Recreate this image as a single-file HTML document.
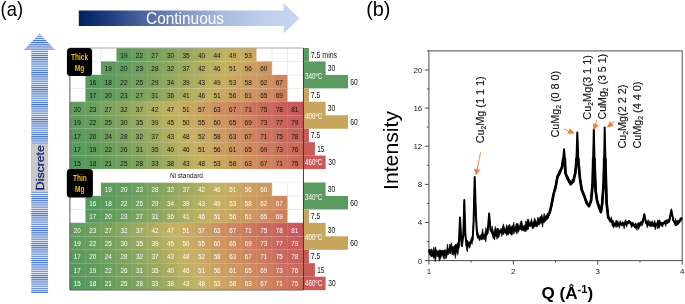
<!DOCTYPE html>
<html><head><meta charset="utf-8"><title>figure</title>
<style>html,body{margin:0;padding:0;background:#fff;}body{width:685px;height:304px;overflow:hidden;position:relative;font-family:"Liberation Sans",sans-serif;}</style></head>
<body>
<svg width="685" height="304" viewBox="0 0 685 304" style="position:absolute;left:0;top:0;will-change:transform;font-family:'Liberation Sans',sans-serif">
<defs>
<linearGradient id="gc" gradientUnits="userSpaceOnUse" x1="78.8" x2="299.5" y1="0" y2="0"><stop offset="0" stop-color="#002060"/><stop offset="0.15" stop-color="#23407f"/><stop offset="0.345" stop-color="#5a72a8"/><stop offset="0.5" stop-color="#889bc8"/><stop offset="0.66" stop-color="#abbbdd"/><stop offset="0.85" stop-color="#bfcfec"/><stop offset="1" stop-color="#c8d6f1"/></linearGradient>
<pattern id="st" x="0" y="1.61" width="10" height="2.136" patternUnits="userSpaceOnUse"><rect x="0" y="0" width="10" height="2.136" fill="#e3eaf7"/><rect x="0" y="0" width="10" height="1.0" fill="#4472c4"/></pattern>
<linearGradient id="r0" gradientUnits="userSpaceOnUse" x1="116.52" x2="256.38" y1="0" y2="0"><stop offset="0.0556" stop-color="rgb(95,155,93)"/><stop offset="0.1667" stop-color="rgb(106,158,93)"/><stop offset="0.2778" stop-color="rgb(124,162,94)"/><stop offset="0.3889" stop-color="rgb(134,164,94)"/><stop offset="0.5000" stop-color="rgb(152,168,95)"/><stop offset="0.6111" stop-color="rgb(170,172,96)"/><stop offset="0.7222" stop-color="rgb(184,176,96)"/><stop offset="0.8333" stop-color="rgb(199,177,97)"/><stop offset="0.9444" stop-color="rgb(201,168,96)"/></linearGradient>
<linearGradient id="r1" gradientUnits="userSpaceOnUse" x1="100.98" x2="271.92" y1="0" y2="0"><stop offset="0.0455" stop-color="rgb(95,155,93)"/><stop offset="0.1364" stop-color="rgb(99,156,93)"/><stop offset="0.2273" stop-color="rgb(109,159,93)"/><stop offset="0.3182" stop-color="rgb(127,163,94)"/><stop offset="0.4091" stop-color="rgb(141,166,95)"/><stop offset="0.5000" stop-color="rgb(159,170,95)"/><stop offset="0.5909" stop-color="rgb(177,174,96)"/><stop offset="0.6818" stop-color="rgb(191,177,97)"/><stop offset="0.7727" stop-color="rgb(200,172,97)"/><stop offset="0.8636" stop-color="rgb(202,161,96)"/><stop offset="0.9545" stop-color="rgb(204,152,96)"/></linearGradient>
<linearGradient id="r2" gradientUnits="userSpaceOnUse" x1="85.44" x2="287.46" y1="0" y2="0"><stop offset="0.0385" stop-color="rgb(85,153,92)"/><stop offset="0.1154" stop-color="rgb(92,154,92)"/><stop offset="0.1923" stop-color="rgb(106,158,93)"/><stop offset="0.2692" stop-color="rgb(116,160,94)"/><stop offset="0.3462" stop-color="rgb(131,163,94)"/><stop offset="0.4231" stop-color="rgb(148,168,95)"/><stop offset="0.5000" stop-color="rgb(166,172,96)"/><stop offset="0.5769" stop-color="rgb(180,175,96)"/><stop offset="0.6538" stop-color="rgb(199,177,97)"/><stop offset="0.7308" stop-color="rgb(201,168,96)"/><stop offset="0.8077" stop-color="rgb(203,157,96)"/><stop offset="0.8846" stop-color="rgb(205,148,95)"/><stop offset="0.9615" stop-color="rgb(206,134,94)"/></linearGradient>
<linearGradient id="r3" gradientUnits="userSpaceOnUse" x1="85.44" x2="287.46" y1="0" y2="0"><stop offset="0.0385" stop-color="rgb(88,154,92)"/><stop offset="0.1154" stop-color="rgb(99,156,93)"/><stop offset="0.1923" stop-color="rgb(109,159,93)"/><stop offset="0.2692" stop-color="rgb(124,162,94)"/><stop offset="0.3462" stop-color="rgb(138,165,94)"/><stop offset="0.4231" stop-color="rgb(155,169,95)"/><stop offset="0.5000" stop-color="rgb(173,173,96)"/><stop offset="0.5769" stop-color="rgb(191,177,97)"/><stop offset="0.6538" stop-color="rgb(200,172,97)"/><stop offset="0.7308" stop-color="rgb(202,161,96)"/><stop offset="0.8077" stop-color="rgb(205,150,95)"/><stop offset="0.8846" stop-color="rgb(207,141,95)"/><stop offset="0.9615" stop-color="rgb(205,128,94)"/></linearGradient>
<linearGradient id="r4" gradientUnits="userSpaceOnUse" x1="69.90" x2="303.00" y1="0" y2="0"><stop offset="0.0333" stop-color="rgb(99,156,93)"/><stop offset="0.1000" stop-color="rgb(109,159,93)"/><stop offset="0.1667" stop-color="rgb(124,162,94)"/><stop offset="0.2333" stop-color="rgb(141,166,95)"/><stop offset="0.3000" stop-color="rgb(159,170,95)"/><stop offset="0.3667" stop-color="rgb(177,174,96)"/><stop offset="0.4333" stop-color="rgb(194,178,97)"/><stop offset="0.5000" stop-color="rgb(200,172,97)"/><stop offset="0.5667" stop-color="rgb(203,159,96)"/><stop offset="0.6333" stop-color="rgb(206,145,95)"/><stop offset="0.7000" stop-color="rgb(206,134,94)"/><stop offset="0.7667" stop-color="rgb(204,121,93)"/><stop offset="0.8333" stop-color="rgb(202,108,92)"/><stop offset="0.9000" stop-color="rgb(200,98,91)"/><stop offset="0.9667" stop-color="rgb(199,88,90)"/></linearGradient>
<linearGradient id="r5" gradientUnits="userSpaceOnUse" x1="69.90" x2="303.00" y1="0" y2="0"><stop offset="0.0333" stop-color="rgb(95,155,93)"/><stop offset="0.1000" stop-color="rgb(106,158,93)"/><stop offset="0.1667" stop-color="rgb(116,160,94)"/><stop offset="0.2333" stop-color="rgb(134,164,94)"/><stop offset="0.3000" stop-color="rgb(152,168,95)"/><stop offset="0.3667" stop-color="rgb(166,172,96)"/><stop offset="0.4333" stop-color="rgb(187,177,97)"/><stop offset="0.5000" stop-color="rgb(199,175,97)"/><stop offset="0.5667" stop-color="rgb(202,163,96)"/><stop offset="0.6333" stop-color="rgb(204,152,96)"/><stop offset="0.7000" stop-color="rgb(207,141,95)"/><stop offset="0.7667" stop-color="rgb(205,128,94)"/><stop offset="0.8333" stop-color="rgb(203,114,92)"/><stop offset="0.9000" stop-color="rgb(201,101,91)"/><stop offset="0.9667" stop-color="rgb(200,95,91)"/></linearGradient>
<linearGradient id="r6" gradientUnits="userSpaceOnUse" x1="69.90" x2="303.00" y1="0" y2="0"><stop offset="0.0333" stop-color="rgb(88,154,92)"/><stop offset="0.1000" stop-color="rgb(99,156,93)"/><stop offset="0.1667" stop-color="rgb(113,159,93)"/><stop offset="0.2333" stop-color="rgb(127,163,94)"/><stop offset="0.3000" stop-color="rgb(141,166,95)"/><stop offset="0.3667" stop-color="rgb(159,170,95)"/><stop offset="0.4333" stop-color="rgb(180,175,96)"/><stop offset="0.5000" stop-color="rgb(198,179,97)"/><stop offset="0.5667" stop-color="rgb(200,170,97)"/><stop offset="0.6333" stop-color="rgb(203,157,96)"/><stop offset="0.7000" stop-color="rgb(206,145,95)"/><stop offset="0.7667" stop-color="rgb(206,134,94)"/><stop offset="0.8333" stop-color="rgb(204,121,93)"/><stop offset="0.9000" stop-color="rgb(202,108,92)"/><stop offset="0.9667" stop-color="rgb(200,98,91)"/></linearGradient>
<linearGradient id="r7" gradientUnits="userSpaceOnUse" x1="69.90" x2="303.00" y1="0" y2="0"><stop offset="0.0333" stop-color="rgb(88,154,92)"/><stop offset="0.1000" stop-color="rgb(95,155,93)"/><stop offset="0.1667" stop-color="rgb(106,158,93)"/><stop offset="0.2333" stop-color="rgb(120,161,94)"/><stop offset="0.3000" stop-color="rgb(138,165,94)"/><stop offset="0.3667" stop-color="rgb(152,168,95)"/><stop offset="0.4333" stop-color="rgb(170,172,96)"/><stop offset="0.5000" stop-color="rgb(191,177,97)"/><stop offset="0.5667" stop-color="rgb(200,172,97)"/><stop offset="0.6333" stop-color="rgb(202,161,96)"/><stop offset="0.7000" stop-color="rgb(205,150,95)"/><stop offset="0.7667" stop-color="rgb(207,141,95)"/><stop offset="0.8333" stop-color="rgb(205,128,94)"/><stop offset="0.9000" stop-color="rgb(203,114,92)"/><stop offset="0.9667" stop-color="rgb(202,105,92)"/></linearGradient>
<linearGradient id="r8" gradientUnits="userSpaceOnUse" x1="69.90" x2="303.00" y1="0" y2="0"><stop offset="0.0333" stop-color="rgb(81,152,92)"/><stop offset="0.1000" stop-color="rgb(92,154,92)"/><stop offset="0.1667" stop-color="rgb(102,157,93)"/><stop offset="0.2333" stop-color="rgb(116,160,94)"/><stop offset="0.3000" stop-color="rgb(127,163,94)"/><stop offset="0.3667" stop-color="rgb(145,167,95)"/><stop offset="0.4333" stop-color="rgb(163,171,95)"/><stop offset="0.5000" stop-color="rgb(180,175,96)"/><stop offset="0.5667" stop-color="rgb(198,179,97)"/><stop offset="0.6333" stop-color="rgb(201,168,96)"/><stop offset="0.7000" stop-color="rgb(203,157,96)"/><stop offset="0.7667" stop-color="rgb(206,145,95)"/><stop offset="0.8333" stop-color="rgb(206,134,94)"/><stop offset="0.9000" stop-color="rgb(204,121,93)"/><stop offset="0.9667" stop-color="rgb(202,108,92)"/></linearGradient>
<linearGradient id="r10" gradientUnits="userSpaceOnUse" x1="100.98" x2="271.92" y1="0" y2="0"><stop offset="0.0455" stop-color="rgb(95,155,93)"/><stop offset="0.1364" stop-color="rgb(99,156,93)"/><stop offset="0.2273" stop-color="rgb(109,159,93)"/><stop offset="0.3182" stop-color="rgb(127,163,94)"/><stop offset="0.4091" stop-color="rgb(141,166,95)"/><stop offset="0.5000" stop-color="rgb(159,170,95)"/><stop offset="0.5909" stop-color="rgb(177,174,96)"/><stop offset="0.6818" stop-color="rgb(191,177,97)"/><stop offset="0.7727" stop-color="rgb(200,172,97)"/><stop offset="0.8636" stop-color="rgb(202,161,96)"/><stop offset="0.9545" stop-color="rgb(204,152,96)"/></linearGradient>
<linearGradient id="r11" gradientUnits="userSpaceOnUse" x1="85.44" x2="287.46" y1="0" y2="0"><stop offset="0.0385" stop-color="rgb(85,153,92)"/><stop offset="0.1154" stop-color="rgb(92,154,92)"/><stop offset="0.1923" stop-color="rgb(106,158,93)"/><stop offset="0.2692" stop-color="rgb(116,160,94)"/><stop offset="0.3462" stop-color="rgb(131,163,94)"/><stop offset="0.4231" stop-color="rgb(148,168,95)"/><stop offset="0.5000" stop-color="rgb(166,172,96)"/><stop offset="0.5769" stop-color="rgb(180,175,96)"/><stop offset="0.6538" stop-color="rgb(199,177,97)"/><stop offset="0.7308" stop-color="rgb(201,168,96)"/><stop offset="0.8077" stop-color="rgb(203,157,96)"/><stop offset="0.8846" stop-color="rgb(205,148,95)"/><stop offset="0.9615" stop-color="rgb(206,134,94)"/></linearGradient>
<linearGradient id="r12" gradientUnits="userSpaceOnUse" x1="85.44" x2="287.46" y1="0" y2="0"><stop offset="0.0385" stop-color="rgb(88,154,92)"/><stop offset="0.1154" stop-color="rgb(99,156,93)"/><stop offset="0.1923" stop-color="rgb(109,159,93)"/><stop offset="0.2692" stop-color="rgb(124,162,94)"/><stop offset="0.3462" stop-color="rgb(138,165,94)"/><stop offset="0.4231" stop-color="rgb(155,169,95)"/><stop offset="0.5000" stop-color="rgb(173,173,96)"/><stop offset="0.5769" stop-color="rgb(191,177,97)"/><stop offset="0.6538" stop-color="rgb(200,172,97)"/><stop offset="0.7308" stop-color="rgb(202,161,96)"/><stop offset="0.8077" stop-color="rgb(205,150,95)"/><stop offset="0.8846" stop-color="rgb(207,141,95)"/><stop offset="0.9615" stop-color="rgb(205,128,94)"/></linearGradient>
<linearGradient id="r13" gradientUnits="userSpaceOnUse" x1="69.90" x2="303.00" y1="0" y2="0"><stop offset="0.0333" stop-color="rgb(99,156,93)"/><stop offset="0.1000" stop-color="rgb(109,159,93)"/><stop offset="0.1667" stop-color="rgb(124,162,94)"/><stop offset="0.2333" stop-color="rgb(141,166,95)"/><stop offset="0.3000" stop-color="rgb(159,170,95)"/><stop offset="0.3667" stop-color="rgb(177,174,96)"/><stop offset="0.4333" stop-color="rgb(194,178,97)"/><stop offset="0.5000" stop-color="rgb(200,172,97)"/><stop offset="0.5667" stop-color="rgb(203,159,96)"/><stop offset="0.6333" stop-color="rgb(206,145,95)"/><stop offset="0.7000" stop-color="rgb(206,134,94)"/><stop offset="0.7667" stop-color="rgb(204,121,93)"/><stop offset="0.8333" stop-color="rgb(202,108,92)"/><stop offset="0.9000" stop-color="rgb(200,98,91)"/><stop offset="0.9667" stop-color="rgb(199,88,90)"/></linearGradient>
<linearGradient id="r14" gradientUnits="userSpaceOnUse" x1="69.90" x2="303.00" y1="0" y2="0"><stop offset="0.0333" stop-color="rgb(95,155,93)"/><stop offset="0.1000" stop-color="rgb(106,158,93)"/><stop offset="0.1667" stop-color="rgb(116,160,94)"/><stop offset="0.2333" stop-color="rgb(134,164,94)"/><stop offset="0.3000" stop-color="rgb(152,168,95)"/><stop offset="0.3667" stop-color="rgb(166,172,96)"/><stop offset="0.4333" stop-color="rgb(187,177,97)"/><stop offset="0.5000" stop-color="rgb(199,175,97)"/><stop offset="0.5667" stop-color="rgb(202,163,96)"/><stop offset="0.6333" stop-color="rgb(204,152,96)"/><stop offset="0.7000" stop-color="rgb(207,141,95)"/><stop offset="0.7667" stop-color="rgb(205,128,94)"/><stop offset="0.8333" stop-color="rgb(203,114,92)"/><stop offset="0.9000" stop-color="rgb(201,101,91)"/><stop offset="0.9667" stop-color="rgb(200,95,91)"/></linearGradient>
<linearGradient id="r15" gradientUnits="userSpaceOnUse" x1="69.90" x2="303.00" y1="0" y2="0"><stop offset="0.0333" stop-color="rgb(88,154,92)"/><stop offset="0.1000" stop-color="rgb(99,156,93)"/><stop offset="0.1667" stop-color="rgb(113,159,93)"/><stop offset="0.2333" stop-color="rgb(127,163,94)"/><stop offset="0.3000" stop-color="rgb(141,166,95)"/><stop offset="0.3667" stop-color="rgb(159,170,95)"/><stop offset="0.4333" stop-color="rgb(180,175,96)"/><stop offset="0.5000" stop-color="rgb(198,179,97)"/><stop offset="0.5667" stop-color="rgb(200,170,97)"/><stop offset="0.6333" stop-color="rgb(203,157,96)"/><stop offset="0.7000" stop-color="rgb(206,145,95)"/><stop offset="0.7667" stop-color="rgb(206,134,94)"/><stop offset="0.8333" stop-color="rgb(204,121,93)"/><stop offset="0.9000" stop-color="rgb(202,108,92)"/><stop offset="0.9667" stop-color="rgb(200,98,91)"/></linearGradient>
<linearGradient id="r16" gradientUnits="userSpaceOnUse" x1="69.90" x2="303.00" y1="0" y2="0"><stop offset="0.0333" stop-color="rgb(88,154,92)"/><stop offset="0.1000" stop-color="rgb(95,155,93)"/><stop offset="0.1667" stop-color="rgb(106,158,93)"/><stop offset="0.2333" stop-color="rgb(120,161,94)"/><stop offset="0.3000" stop-color="rgb(138,165,94)"/><stop offset="0.3667" stop-color="rgb(152,168,95)"/><stop offset="0.4333" stop-color="rgb(170,172,96)"/><stop offset="0.5000" stop-color="rgb(191,177,97)"/><stop offset="0.5667" stop-color="rgb(200,172,97)"/><stop offset="0.6333" stop-color="rgb(202,161,96)"/><stop offset="0.7000" stop-color="rgb(205,150,95)"/><stop offset="0.7667" stop-color="rgb(207,141,95)"/><stop offset="0.8333" stop-color="rgb(205,128,94)"/><stop offset="0.9000" stop-color="rgb(203,114,92)"/><stop offset="0.9667" stop-color="rgb(202,105,92)"/></linearGradient>
<linearGradient id="r17" gradientUnits="userSpaceOnUse" x1="69.90" x2="303.00" y1="0" y2="0"><stop offset="0.0333" stop-color="rgb(81,152,92)"/><stop offset="0.1000" stop-color="rgb(92,154,92)"/><stop offset="0.1667" stop-color="rgb(102,157,93)"/><stop offset="0.2333" stop-color="rgb(116,160,94)"/><stop offset="0.3000" stop-color="rgb(127,163,94)"/><stop offset="0.3667" stop-color="rgb(145,167,95)"/><stop offset="0.4333" stop-color="rgb(163,171,95)"/><stop offset="0.5000" stop-color="rgb(180,175,96)"/><stop offset="0.5667" stop-color="rgb(198,179,97)"/><stop offset="0.6333" stop-color="rgb(201,168,96)"/><stop offset="0.7000" stop-color="rgb(203,157,96)"/><stop offset="0.7667" stop-color="rgb(206,145,95)"/><stop offset="0.8333" stop-color="rgb(206,134,94)"/><stop offset="0.9000" stop-color="rgb(204,121,93)"/><stop offset="0.9667" stop-color="rgb(202,108,92)"/></linearGradient>
</defs>
<text x="0.6" y="16.0" font-size="19.8" fill="#000" textLength="22.4" lengthAdjust="spacingAndGlyphs">(a)</text>
<text x="366.2" y="16.0" font-size="19.8" fill="#000" textLength="24.3" lengthAdjust="spacingAndGlyphs">(b)</text>
<path d="M78.8 10.5 H283.7 V3.5 L299.5 18.3 L283.7 33.2 V25.9 H78.8 Z" fill="url(#gc)"/>
<text x="146.0" y="24.2" font-size="16" fill="#fff" textLength="78.0" lengthAdjust="spacingAndGlyphs">Continuous</text>
<path d="M39.6 33.6 L55.1 49.9 H48 V293 H31.3 V49.9 H23.9 Z" fill="url(#st)"/>
<rect x="31.1" y="143.8" width="17" height="47.8" fill="#c9c9c9"/>
<text transform="translate(44.1 190.2) rotate(-90)" font-size="11.5" fill="#0e1762" stroke="#0e1762" stroke-width="0.25" textLength="45.0" lengthAdjust="spacingAndGlyphs">Discrete</text>
<rect x="69.90" y="48.00" width="233.10" height="242.10" fill="#fff"/>
<path d="M85.44 48.00 V169.05 M85.44 182.50 V290.10 M100.98 48.00 V169.05 M100.98 182.50 V290.10 M116.52 48.00 V169.05 M116.52 182.50 V290.10 M132.06 48.00 V169.05 M132.06 182.50 V290.10 M147.60 48.00 V169.05 M147.60 182.50 V290.10 M163.14 48.00 V169.05 M163.14 182.50 V290.10 M178.68 48.00 V169.05 M178.68 182.50 V290.10 M194.22 48.00 V169.05 M194.22 182.50 V290.10 M209.76 48.00 V169.05 M209.76 182.50 V290.10 M225.30 48.00 V169.05 M225.30 182.50 V290.10 M240.84 48.00 V169.05 M240.84 182.50 V290.10 M256.38 48.00 V169.05 M256.38 182.50 V290.10 M271.92 48.00 V169.05 M271.92 182.50 V290.10 M287.46 48.00 V169.05 M287.46 182.50 V290.10 M69.90 61.45 H303.00 M69.90 74.90 H303.00 M69.90 88.35 H303.00 M69.90 101.80 H303.00 M69.90 115.25 H303.00 M69.90 128.70 H303.00 M69.90 142.15 H303.00 M69.90 155.60 H303.00 M69.90 169.05 H303.00 M69.90 182.50 H303.00 M69.90 195.95 H303.00 M69.90 209.40 H303.00 M69.90 222.85 H303.00 M69.90 236.30 H303.00 M69.90 249.75 H303.00 M69.90 263.20 H303.00 M69.90 276.65 H303.00" stroke="#e2e2e2" stroke-width="0.8" fill="none"/>
<rect x="116.52" y="48.00" width="139.86" height="13.50" fill="url(#r0)"/>
<rect x="100.98" y="61.45" width="170.94" height="13.50" fill="url(#r1)"/>
<rect x="85.44" y="74.90" width="202.02" height="13.50" fill="url(#r2)"/>
<rect x="85.44" y="88.35" width="202.02" height="13.50" fill="url(#r3)"/>
<rect x="69.90" y="101.80" width="233.10" height="13.50" fill="url(#r4)"/>
<rect x="69.90" y="115.25" width="233.10" height="13.50" fill="url(#r5)"/>
<rect x="69.90" y="128.70" width="233.10" height="13.50" fill="url(#r6)"/>
<rect x="69.90" y="142.15" width="233.10" height="13.50" fill="url(#r7)"/>
<rect x="69.90" y="155.60" width="233.10" height="13.50" fill="url(#r8)"/>
<rect x="100.98" y="182.50" width="170.94" height="13.50" fill="url(#r10)"/>
<rect x="85.44" y="195.95" width="202.02" height="13.50" fill="url(#r11)"/>
<rect x="85.44" y="209.40" width="202.02" height="13.50" fill="url(#r12)"/>
<rect x="69.90" y="222.85" width="233.10" height="13.50" fill="url(#r13)"/>
<rect x="69.90" y="236.30" width="233.10" height="13.50" fill="url(#r14)"/>
<rect x="69.90" y="249.75" width="233.10" height="13.50" fill="url(#r15)"/>
<rect x="69.90" y="263.20" width="233.10" height="13.50" fill="url(#r16)"/>
<rect x="69.90" y="276.65" width="233.10" height="13.50" fill="url(#r17)"/>
<path d="M85.44 48.00 V169.05 M85.44 182.50 V290.10 M100.98 48.00 V169.05 M100.98 182.50 V290.10 M116.52 48.00 V169.05 M116.52 182.50 V290.10 M132.06 48.00 V169.05 M132.06 182.50 V290.10 M147.60 48.00 V169.05 M147.60 182.50 V290.10 M163.14 48.00 V169.05 M163.14 182.50 V290.10 M178.68 48.00 V169.05 M178.68 182.50 V290.10 M194.22 48.00 V169.05 M194.22 182.50 V290.10 M209.76 48.00 V169.05 M209.76 182.50 V290.10 M225.30 48.00 V169.05 M225.30 182.50 V290.10 M240.84 48.00 V169.05 M240.84 182.50 V290.10 M256.38 48.00 V169.05 M256.38 182.50 V290.10 M271.92 48.00 V169.05 M271.92 182.50 V290.10 M287.46 48.00 V169.05 M287.46 182.50 V290.10 M69.90 61.45 H303.00 M69.90 74.90 H303.00 M69.90 88.35 H303.00 M69.90 101.80 H303.00 M69.90 115.25 H303.00 M69.90 128.70 H303.00 M69.90 142.15 H303.00 M69.90 155.60 H303.00 M69.90 169.05 H303.00 M69.90 195.95 H303.00 M69.90 209.40 H303.00 M69.90 222.85 H303.00 M69.90 236.30 H303.00 M69.90 249.75 H303.00 M69.90 263.20 H303.00 M69.90 276.65 H303.00" stroke="#ffffff" stroke-opacity="0.13" stroke-width="0.8" fill="none"/>
<rect x="69.90" y="169.35" width="233.10" height="13.15" fill="#fff"/>
<path d="M69.90 48.00 H303.00" stroke="#a6a6a6" stroke-width="1" fill="none"/>
<path d="M69.90 48.00 V290.10" stroke="#555" stroke-width="1" fill="none"/>
<path d="M69.90 290.10 H303.00" stroke="#666" stroke-width="0.8" fill="none"/>
<text x="123.89" y="57.98" font-size="7.9" fill="#111" text-anchor="middle" textLength="7.2" lengthAdjust="spacingAndGlyphs">19</text>
<text x="139.43" y="57.98" font-size="7.9" fill="#111" text-anchor="middle" textLength="7.2" lengthAdjust="spacingAndGlyphs">22</text>
<text x="154.97" y="57.98" font-size="7.9" fill="#111" text-anchor="middle" textLength="7.2" lengthAdjust="spacingAndGlyphs">27</text>
<text x="170.51" y="57.98" font-size="7.9" fill="#111" text-anchor="middle" textLength="7.2" lengthAdjust="spacingAndGlyphs">30</text>
<text x="186.05" y="57.98" font-size="7.9" fill="#111" text-anchor="middle" textLength="7.2" lengthAdjust="spacingAndGlyphs">35</text>
<text x="201.59" y="57.98" font-size="7.9" fill="#111" text-anchor="middle" textLength="7.2" lengthAdjust="spacingAndGlyphs">40</text>
<text x="217.13" y="57.98" font-size="7.9" fill="#111" text-anchor="middle" textLength="7.2" lengthAdjust="spacingAndGlyphs">44</text>
<text x="232.67" y="57.98" font-size="7.9" fill="#111" text-anchor="middle" textLength="7.2" lengthAdjust="spacingAndGlyphs">49</text>
<text x="248.21" y="57.98" font-size="7.9" fill="#111" text-anchor="middle" textLength="7.2" lengthAdjust="spacingAndGlyphs">53</text>
<text x="108.35" y="71.42" font-size="7.9" fill="#111" text-anchor="middle" textLength="7.2" lengthAdjust="spacingAndGlyphs">19</text>
<text x="123.89" y="71.42" font-size="7.9" fill="#111" text-anchor="middle" textLength="7.2" lengthAdjust="spacingAndGlyphs">20</text>
<text x="139.43" y="71.42" font-size="7.9" fill="#111" text-anchor="middle" textLength="7.2" lengthAdjust="spacingAndGlyphs">23</text>
<text x="154.97" y="71.42" font-size="7.9" fill="#111" text-anchor="middle" textLength="7.2" lengthAdjust="spacingAndGlyphs">28</text>
<text x="170.51" y="71.42" font-size="7.9" fill="#111" text-anchor="middle" textLength="7.2" lengthAdjust="spacingAndGlyphs">32</text>
<text x="186.05" y="71.42" font-size="7.9" fill="#111" text-anchor="middle" textLength="7.2" lengthAdjust="spacingAndGlyphs">37</text>
<text x="201.59" y="71.42" font-size="7.9" fill="#111" text-anchor="middle" textLength="7.2" lengthAdjust="spacingAndGlyphs">42</text>
<text x="217.13" y="71.42" font-size="7.9" fill="#111" text-anchor="middle" textLength="7.2" lengthAdjust="spacingAndGlyphs">46</text>
<text x="232.67" y="71.42" font-size="7.9" fill="#111" text-anchor="middle" textLength="7.2" lengthAdjust="spacingAndGlyphs">51</text>
<text x="248.21" y="71.42" font-size="7.9" fill="#111" text-anchor="middle" textLength="7.2" lengthAdjust="spacingAndGlyphs">56</text>
<text x="263.75" y="71.42" font-size="7.9" fill="#111" text-anchor="middle" textLength="7.2" lengthAdjust="spacingAndGlyphs">60</text>
<text x="92.81" y="84.88" font-size="7.9" fill="#111" text-anchor="middle" textLength="7.2" lengthAdjust="spacingAndGlyphs">16</text>
<text x="108.35" y="84.88" font-size="7.9" fill="#111" text-anchor="middle" textLength="7.2" lengthAdjust="spacingAndGlyphs">18</text>
<text x="123.89" y="84.88" font-size="7.9" fill="#111" text-anchor="middle" textLength="7.2" lengthAdjust="spacingAndGlyphs">22</text>
<text x="139.43" y="84.88" font-size="7.9" fill="#111" text-anchor="middle" textLength="7.2" lengthAdjust="spacingAndGlyphs">25</text>
<text x="154.97" y="84.88" font-size="7.9" fill="#111" text-anchor="middle" textLength="7.2" lengthAdjust="spacingAndGlyphs">29</text>
<text x="170.51" y="84.88" font-size="7.9" fill="#111" text-anchor="middle" textLength="7.2" lengthAdjust="spacingAndGlyphs">34</text>
<text x="186.05" y="84.88" font-size="7.9" fill="#111" text-anchor="middle" textLength="7.2" lengthAdjust="spacingAndGlyphs">39</text>
<text x="201.59" y="84.88" font-size="7.9" fill="#111" text-anchor="middle" textLength="7.2" lengthAdjust="spacingAndGlyphs">43</text>
<text x="217.13" y="84.88" font-size="7.9" fill="#111" text-anchor="middle" textLength="7.2" lengthAdjust="spacingAndGlyphs">49</text>
<text x="232.67" y="84.88" font-size="7.9" fill="#111" text-anchor="middle" textLength="7.2" lengthAdjust="spacingAndGlyphs">53</text>
<text x="248.21" y="84.88" font-size="7.9" fill="#111" text-anchor="middle" textLength="7.2" lengthAdjust="spacingAndGlyphs">58</text>
<text x="263.75" y="84.88" font-size="7.9" fill="#111" text-anchor="middle" textLength="7.2" lengthAdjust="spacingAndGlyphs">62</text>
<text x="279.29" y="84.88" font-size="7.9" fill="#111" text-anchor="middle" textLength="7.2" lengthAdjust="spacingAndGlyphs">67</text>
<text x="92.81" y="98.32" font-size="7.9" fill="#111" text-anchor="middle" textLength="7.2" lengthAdjust="spacingAndGlyphs">17</text>
<text x="108.35" y="98.32" font-size="7.9" fill="#111" text-anchor="middle" textLength="7.2" lengthAdjust="spacingAndGlyphs">20</text>
<text x="123.89" y="98.32" font-size="7.9" fill="#111" text-anchor="middle" textLength="7.2" lengthAdjust="spacingAndGlyphs">23</text>
<text x="139.43" y="98.32" font-size="7.9" fill="#111" text-anchor="middle" textLength="7.2" lengthAdjust="spacingAndGlyphs">27</text>
<text x="154.97" y="98.32" font-size="7.9" fill="#111" text-anchor="middle" textLength="7.2" lengthAdjust="spacingAndGlyphs">31</text>
<text x="170.51" y="98.32" font-size="7.9" fill="#111" text-anchor="middle" textLength="7.2" lengthAdjust="spacingAndGlyphs">36</text>
<text x="186.05" y="98.32" font-size="7.9" fill="#111" text-anchor="middle" textLength="7.2" lengthAdjust="spacingAndGlyphs">41</text>
<text x="201.59" y="98.32" font-size="7.9" fill="#111" text-anchor="middle" textLength="7.2" lengthAdjust="spacingAndGlyphs">46</text>
<text x="217.13" y="98.32" font-size="7.9" fill="#111" text-anchor="middle" textLength="7.2" lengthAdjust="spacingAndGlyphs">51</text>
<text x="232.67" y="98.32" font-size="7.9" fill="#111" text-anchor="middle" textLength="7.2" lengthAdjust="spacingAndGlyphs">56</text>
<text x="248.21" y="98.32" font-size="7.9" fill="#111" text-anchor="middle" textLength="7.2" lengthAdjust="spacingAndGlyphs">61</text>
<text x="263.75" y="98.32" font-size="7.9" fill="#111" text-anchor="middle" textLength="7.2" lengthAdjust="spacingAndGlyphs">65</text>
<text x="279.29" y="98.32" font-size="7.9" fill="#111" text-anchor="middle" textLength="7.2" lengthAdjust="spacingAndGlyphs">69</text>
<text x="77.27" y="111.77" font-size="7.9" fill="#111" text-anchor="middle" textLength="7.2" lengthAdjust="spacingAndGlyphs">20</text>
<text x="92.81" y="111.77" font-size="7.9" fill="#111" text-anchor="middle" textLength="7.2" lengthAdjust="spacingAndGlyphs">23</text>
<text x="108.35" y="111.77" font-size="7.9" fill="#111" text-anchor="middle" textLength="7.2" lengthAdjust="spacingAndGlyphs">27</text>
<text x="123.89" y="111.77" font-size="7.9" fill="#111" text-anchor="middle" textLength="7.2" lengthAdjust="spacingAndGlyphs">32</text>
<text x="139.43" y="111.77" font-size="7.9" fill="#111" text-anchor="middle" textLength="7.2" lengthAdjust="spacingAndGlyphs">37</text>
<text x="154.97" y="111.77" font-size="7.9" fill="#111" text-anchor="middle" textLength="7.2" lengthAdjust="spacingAndGlyphs">42</text>
<text x="170.51" y="111.77" font-size="7.9" fill="#111" text-anchor="middle" textLength="7.2" lengthAdjust="spacingAndGlyphs">47</text>
<text x="186.05" y="111.77" font-size="7.9" fill="#111" text-anchor="middle" textLength="7.2" lengthAdjust="spacingAndGlyphs">51</text>
<text x="201.59" y="111.77" font-size="7.9" fill="#111" text-anchor="middle" textLength="7.2" lengthAdjust="spacingAndGlyphs">57</text>
<text x="217.13" y="111.77" font-size="7.9" fill="#111" text-anchor="middle" textLength="7.2" lengthAdjust="spacingAndGlyphs">63</text>
<text x="232.67" y="111.77" font-size="7.9" fill="#111" text-anchor="middle" textLength="7.2" lengthAdjust="spacingAndGlyphs">67</text>
<text x="248.21" y="111.77" font-size="7.9" fill="#111" text-anchor="middle" textLength="7.2" lengthAdjust="spacingAndGlyphs">71</text>
<text x="263.75" y="111.77" font-size="7.9" fill="#111" text-anchor="middle" textLength="7.2" lengthAdjust="spacingAndGlyphs">75</text>
<text x="279.29" y="111.77" font-size="7.9" fill="#111" text-anchor="middle" textLength="7.2" lengthAdjust="spacingAndGlyphs">78</text>
<text x="294.83" y="111.77" font-size="7.9" fill="#111" text-anchor="middle" textLength="7.2" lengthAdjust="spacingAndGlyphs">81</text>
<text x="77.27" y="125.22" font-size="7.9" fill="#111" text-anchor="middle" textLength="7.2" lengthAdjust="spacingAndGlyphs">19</text>
<text x="92.81" y="125.22" font-size="7.9" fill="#111" text-anchor="middle" textLength="7.2" lengthAdjust="spacingAndGlyphs">22</text>
<text x="108.35" y="125.22" font-size="7.9" fill="#111" text-anchor="middle" textLength="7.2" lengthAdjust="spacingAndGlyphs">25</text>
<text x="123.89" y="125.22" font-size="7.9" fill="#111" text-anchor="middle" textLength="7.2" lengthAdjust="spacingAndGlyphs">30</text>
<text x="139.43" y="125.22" font-size="7.9" fill="#111" text-anchor="middle" textLength="7.2" lengthAdjust="spacingAndGlyphs">35</text>
<text x="154.97" y="125.22" font-size="7.9" fill="#111" text-anchor="middle" textLength="7.2" lengthAdjust="spacingAndGlyphs">39</text>
<text x="170.51" y="125.22" font-size="7.9" fill="#111" text-anchor="middle" textLength="7.2" lengthAdjust="spacingAndGlyphs">45</text>
<text x="186.05" y="125.22" font-size="7.9" fill="#111" text-anchor="middle" textLength="7.2" lengthAdjust="spacingAndGlyphs">50</text>
<text x="201.59" y="125.22" font-size="7.9" fill="#111" text-anchor="middle" textLength="7.2" lengthAdjust="spacingAndGlyphs">55</text>
<text x="217.13" y="125.22" font-size="7.9" fill="#111" text-anchor="middle" textLength="7.2" lengthAdjust="spacingAndGlyphs">60</text>
<text x="232.67" y="125.22" font-size="7.9" fill="#111" text-anchor="middle" textLength="7.2" lengthAdjust="spacingAndGlyphs">65</text>
<text x="248.21" y="125.22" font-size="7.9" fill="#111" text-anchor="middle" textLength="7.2" lengthAdjust="spacingAndGlyphs">69</text>
<text x="263.75" y="125.22" font-size="7.9" fill="#111" text-anchor="middle" textLength="7.2" lengthAdjust="spacingAndGlyphs">73</text>
<text x="279.29" y="125.22" font-size="7.9" fill="#111" text-anchor="middle" textLength="7.2" lengthAdjust="spacingAndGlyphs">77</text>
<text x="294.83" y="125.22" font-size="7.9" fill="#111" text-anchor="middle" textLength="7.2" lengthAdjust="spacingAndGlyphs">79</text>
<text x="77.27" y="138.67" font-size="7.9" fill="#111" text-anchor="middle" textLength="7.2" lengthAdjust="spacingAndGlyphs">17</text>
<text x="92.81" y="138.67" font-size="7.9" fill="#111" text-anchor="middle" textLength="7.2" lengthAdjust="spacingAndGlyphs">20</text>
<text x="108.35" y="138.67" font-size="7.9" fill="#111" text-anchor="middle" textLength="7.2" lengthAdjust="spacingAndGlyphs">24</text>
<text x="123.89" y="138.67" font-size="7.9" fill="#111" text-anchor="middle" textLength="7.2" lengthAdjust="spacingAndGlyphs">28</text>
<text x="139.43" y="138.67" font-size="7.9" fill="#111" text-anchor="middle" textLength="7.2" lengthAdjust="spacingAndGlyphs">32</text>
<text x="154.97" y="138.67" font-size="7.9" fill="#111" text-anchor="middle" textLength="7.2" lengthAdjust="spacingAndGlyphs">37</text>
<text x="170.51" y="138.67" font-size="7.9" fill="#111" text-anchor="middle" textLength="7.2" lengthAdjust="spacingAndGlyphs">43</text>
<text x="186.05" y="138.67" font-size="7.9" fill="#111" text-anchor="middle" textLength="7.2" lengthAdjust="spacingAndGlyphs">48</text>
<text x="201.59" y="138.67" font-size="7.9" fill="#111" text-anchor="middle" textLength="7.2" lengthAdjust="spacingAndGlyphs">52</text>
<text x="217.13" y="138.67" font-size="7.9" fill="#111" text-anchor="middle" textLength="7.2" lengthAdjust="spacingAndGlyphs">58</text>
<text x="232.67" y="138.67" font-size="7.9" fill="#111" text-anchor="middle" textLength="7.2" lengthAdjust="spacingAndGlyphs">63</text>
<text x="248.21" y="138.67" font-size="7.9" fill="#111" text-anchor="middle" textLength="7.2" lengthAdjust="spacingAndGlyphs">67</text>
<text x="263.75" y="138.67" font-size="7.9" fill="#111" text-anchor="middle" textLength="7.2" lengthAdjust="spacingAndGlyphs">71</text>
<text x="279.29" y="138.67" font-size="7.9" fill="#111" text-anchor="middle" textLength="7.2" lengthAdjust="spacingAndGlyphs">75</text>
<text x="294.83" y="138.67" font-size="7.9" fill="#111" text-anchor="middle" textLength="7.2" lengthAdjust="spacingAndGlyphs">78</text>
<text x="77.27" y="152.12" font-size="7.9" fill="#111" text-anchor="middle" textLength="7.2" lengthAdjust="spacingAndGlyphs">17</text>
<text x="92.81" y="152.12" font-size="7.9" fill="#111" text-anchor="middle" textLength="7.2" lengthAdjust="spacingAndGlyphs">19</text>
<text x="108.35" y="152.12" font-size="7.9" fill="#111" text-anchor="middle" textLength="7.2" lengthAdjust="spacingAndGlyphs">22</text>
<text x="123.89" y="152.12" font-size="7.9" fill="#111" text-anchor="middle" textLength="7.2" lengthAdjust="spacingAndGlyphs">26</text>
<text x="139.43" y="152.12" font-size="7.9" fill="#111" text-anchor="middle" textLength="7.2" lengthAdjust="spacingAndGlyphs">31</text>
<text x="154.97" y="152.12" font-size="7.9" fill="#111" text-anchor="middle" textLength="7.2" lengthAdjust="spacingAndGlyphs">35</text>
<text x="170.51" y="152.12" font-size="7.9" fill="#111" text-anchor="middle" textLength="7.2" lengthAdjust="spacingAndGlyphs">40</text>
<text x="186.05" y="152.12" font-size="7.9" fill="#111" text-anchor="middle" textLength="7.2" lengthAdjust="spacingAndGlyphs">46</text>
<text x="201.59" y="152.12" font-size="7.9" fill="#111" text-anchor="middle" textLength="7.2" lengthAdjust="spacingAndGlyphs">51</text>
<text x="217.13" y="152.12" font-size="7.9" fill="#111" text-anchor="middle" textLength="7.2" lengthAdjust="spacingAndGlyphs">56</text>
<text x="232.67" y="152.12" font-size="7.9" fill="#111" text-anchor="middle" textLength="7.2" lengthAdjust="spacingAndGlyphs">61</text>
<text x="248.21" y="152.12" font-size="7.9" fill="#111" text-anchor="middle" textLength="7.2" lengthAdjust="spacingAndGlyphs">65</text>
<text x="263.75" y="152.12" font-size="7.9" fill="#111" text-anchor="middle" textLength="7.2" lengthAdjust="spacingAndGlyphs">69</text>
<text x="279.29" y="152.12" font-size="7.9" fill="#111" text-anchor="middle" textLength="7.2" lengthAdjust="spacingAndGlyphs">73</text>
<text x="294.83" y="152.12" font-size="7.9" fill="#111" text-anchor="middle" textLength="7.2" lengthAdjust="spacingAndGlyphs">76</text>
<text x="77.27" y="165.57" font-size="7.9" fill="#111" text-anchor="middle" textLength="7.2" lengthAdjust="spacingAndGlyphs">15</text>
<text x="92.81" y="165.57" font-size="7.9" fill="#111" text-anchor="middle" textLength="7.2" lengthAdjust="spacingAndGlyphs">18</text>
<text x="108.35" y="165.57" font-size="7.9" fill="#111" text-anchor="middle" textLength="7.2" lengthAdjust="spacingAndGlyphs">21</text>
<text x="123.89" y="165.57" font-size="7.9" fill="#111" text-anchor="middle" textLength="7.2" lengthAdjust="spacingAndGlyphs">25</text>
<text x="139.43" y="165.57" font-size="7.9" fill="#111" text-anchor="middle" textLength="7.2" lengthAdjust="spacingAndGlyphs">28</text>
<text x="154.97" y="165.57" font-size="7.9" fill="#111" text-anchor="middle" textLength="7.2" lengthAdjust="spacingAndGlyphs">33</text>
<text x="170.51" y="165.57" font-size="7.9" fill="#111" text-anchor="middle" textLength="7.2" lengthAdjust="spacingAndGlyphs">38</text>
<text x="186.05" y="165.57" font-size="7.9" fill="#111" text-anchor="middle" textLength="7.2" lengthAdjust="spacingAndGlyphs">43</text>
<text x="201.59" y="165.57" font-size="7.9" fill="#111" text-anchor="middle" textLength="7.2" lengthAdjust="spacingAndGlyphs">48</text>
<text x="217.13" y="165.57" font-size="7.9" fill="#111" text-anchor="middle" textLength="7.2" lengthAdjust="spacingAndGlyphs">53</text>
<text x="232.67" y="165.57" font-size="7.9" fill="#111" text-anchor="middle" textLength="7.2" lengthAdjust="spacingAndGlyphs">58</text>
<text x="248.21" y="165.57" font-size="7.9" fill="#111" text-anchor="middle" textLength="7.2" lengthAdjust="spacingAndGlyphs">63</text>
<text x="263.75" y="165.57" font-size="7.9" fill="#111" text-anchor="middle" textLength="7.2" lengthAdjust="spacingAndGlyphs">67</text>
<text x="279.29" y="165.57" font-size="7.9" fill="#111" text-anchor="middle" textLength="7.2" lengthAdjust="spacingAndGlyphs">71</text>
<text x="294.83" y="165.57" font-size="7.9" fill="#111" text-anchor="middle" textLength="7.2" lengthAdjust="spacingAndGlyphs">75</text>
<text x="108.35" y="192.22" font-size="7.9" fill="#fff" text-anchor="middle" textLength="7.0" lengthAdjust="spacingAndGlyphs">19</text>
<text x="123.89" y="192.22" font-size="7.9" fill="#fff" text-anchor="middle" textLength="7.0" lengthAdjust="spacingAndGlyphs">20</text>
<text x="139.43" y="192.22" font-size="7.9" fill="#fff" text-anchor="middle" textLength="7.0" lengthAdjust="spacingAndGlyphs">23</text>
<text x="154.97" y="192.22" font-size="7.9" fill="#fff" text-anchor="middle" textLength="7.0" lengthAdjust="spacingAndGlyphs">28</text>
<text x="170.51" y="192.22" font-size="7.9" fill="#fff" text-anchor="middle" textLength="7.0" lengthAdjust="spacingAndGlyphs">32</text>
<text x="186.05" y="192.22" font-size="7.9" fill="#fff" text-anchor="middle" textLength="7.0" lengthAdjust="spacingAndGlyphs">37</text>
<text x="201.59" y="192.22" font-size="7.9" fill="#fff" text-anchor="middle" textLength="7.0" lengthAdjust="spacingAndGlyphs">42</text>
<text x="217.13" y="192.22" font-size="7.9" fill="#fff" text-anchor="middle" textLength="7.0" lengthAdjust="spacingAndGlyphs">46</text>
<text x="232.67" y="192.22" font-size="7.9" fill="#fff" text-anchor="middle" textLength="7.0" lengthAdjust="spacingAndGlyphs">51</text>
<text x="248.21" y="192.22" font-size="7.9" fill="#fff" text-anchor="middle" textLength="7.0" lengthAdjust="spacingAndGlyphs">56</text>
<text x="263.75" y="192.22" font-size="7.9" fill="#fff" text-anchor="middle" textLength="7.0" lengthAdjust="spacingAndGlyphs">60</text>
<text x="92.81" y="205.67" font-size="7.9" fill="#fff" text-anchor="middle" textLength="7.0" lengthAdjust="spacingAndGlyphs">16</text>
<text x="108.35" y="205.67" font-size="7.9" fill="#fff" text-anchor="middle" textLength="7.0" lengthAdjust="spacingAndGlyphs">18</text>
<text x="123.89" y="205.67" font-size="7.9" fill="#fff" text-anchor="middle" textLength="7.0" lengthAdjust="spacingAndGlyphs">22</text>
<text x="139.43" y="205.67" font-size="7.9" fill="#fff" text-anchor="middle" textLength="7.0" lengthAdjust="spacingAndGlyphs">25</text>
<text x="154.97" y="205.67" font-size="7.9" fill="#fff" text-anchor="middle" textLength="7.0" lengthAdjust="spacingAndGlyphs">29</text>
<text x="170.51" y="205.67" font-size="7.9" fill="#fff" text-anchor="middle" textLength="7.0" lengthAdjust="spacingAndGlyphs">34</text>
<text x="186.05" y="205.67" font-size="7.9" fill="#fff" text-anchor="middle" textLength="7.0" lengthAdjust="spacingAndGlyphs">39</text>
<text x="201.59" y="205.67" font-size="7.9" fill="#fff" text-anchor="middle" textLength="7.0" lengthAdjust="spacingAndGlyphs">43</text>
<text x="217.13" y="205.67" font-size="7.9" fill="#fff" text-anchor="middle" textLength="7.0" lengthAdjust="spacingAndGlyphs">49</text>
<text x="232.67" y="205.67" font-size="7.9" fill="#fff" text-anchor="middle" textLength="7.0" lengthAdjust="spacingAndGlyphs">53</text>
<text x="248.21" y="205.67" font-size="7.9" fill="#fff" text-anchor="middle" textLength="7.0" lengthAdjust="spacingAndGlyphs">58</text>
<text x="263.75" y="205.67" font-size="7.9" fill="#fff" text-anchor="middle" textLength="7.0" lengthAdjust="spacingAndGlyphs">62</text>
<text x="279.29" y="205.67" font-size="7.9" fill="#fff" text-anchor="middle" textLength="7.0" lengthAdjust="spacingAndGlyphs">67</text>
<text x="92.81" y="219.12" font-size="7.9" fill="#fff" text-anchor="middle" textLength="7.0" lengthAdjust="spacingAndGlyphs">17</text>
<text x="108.35" y="219.12" font-size="7.9" fill="#fff" text-anchor="middle" textLength="7.0" lengthAdjust="spacingAndGlyphs">20</text>
<text x="123.89" y="219.12" font-size="7.9" fill="#fff" text-anchor="middle" textLength="7.0" lengthAdjust="spacingAndGlyphs">23</text>
<text x="139.43" y="219.12" font-size="7.9" fill="#fff" text-anchor="middle" textLength="7.0" lengthAdjust="spacingAndGlyphs">27</text>
<text x="154.97" y="219.12" font-size="7.9" fill="#fff" text-anchor="middle" textLength="7.0" lengthAdjust="spacingAndGlyphs">31</text>
<text x="170.51" y="219.12" font-size="7.9" fill="#fff" text-anchor="middle" textLength="7.0" lengthAdjust="spacingAndGlyphs">36</text>
<text x="186.05" y="219.12" font-size="7.9" fill="#fff" text-anchor="middle" textLength="7.0" lengthAdjust="spacingAndGlyphs">41</text>
<text x="201.59" y="219.12" font-size="7.9" fill="#fff" text-anchor="middle" textLength="7.0" lengthAdjust="spacingAndGlyphs">46</text>
<text x="217.13" y="219.12" font-size="7.9" fill="#fff" text-anchor="middle" textLength="7.0" lengthAdjust="spacingAndGlyphs">51</text>
<text x="232.67" y="219.12" font-size="7.9" fill="#fff" text-anchor="middle" textLength="7.0" lengthAdjust="spacingAndGlyphs">56</text>
<text x="248.21" y="219.12" font-size="7.9" fill="#fff" text-anchor="middle" textLength="7.0" lengthAdjust="spacingAndGlyphs">61</text>
<text x="263.75" y="219.12" font-size="7.9" fill="#fff" text-anchor="middle" textLength="7.0" lengthAdjust="spacingAndGlyphs">65</text>
<text x="279.29" y="219.12" font-size="7.9" fill="#fff" text-anchor="middle" textLength="7.0" lengthAdjust="spacingAndGlyphs">69</text>
<text x="77.27" y="232.57" font-size="7.9" fill="#fff" text-anchor="middle" textLength="7.0" lengthAdjust="spacingAndGlyphs">20</text>
<text x="92.81" y="232.57" font-size="7.9" fill="#fff" text-anchor="middle" textLength="7.0" lengthAdjust="spacingAndGlyphs">23</text>
<text x="108.35" y="232.57" font-size="7.9" fill="#fff" text-anchor="middle" textLength="7.0" lengthAdjust="spacingAndGlyphs">27</text>
<text x="123.89" y="232.57" font-size="7.9" fill="#fff" text-anchor="middle" textLength="7.0" lengthAdjust="spacingAndGlyphs">32</text>
<text x="139.43" y="232.57" font-size="7.9" fill="#fff" text-anchor="middle" textLength="7.0" lengthAdjust="spacingAndGlyphs">37</text>
<text x="154.97" y="232.57" font-size="7.9" fill="#fff" text-anchor="middle" textLength="7.0" lengthAdjust="spacingAndGlyphs">42</text>
<text x="170.51" y="232.57" font-size="7.9" fill="#fff" text-anchor="middle" textLength="7.0" lengthAdjust="spacingAndGlyphs">47</text>
<text x="186.05" y="232.57" font-size="7.9" fill="#fff" text-anchor="middle" textLength="7.0" lengthAdjust="spacingAndGlyphs">51</text>
<text x="201.59" y="232.57" font-size="7.9" fill="#fff" text-anchor="middle" textLength="7.0" lengthAdjust="spacingAndGlyphs">57</text>
<text x="217.13" y="232.57" font-size="7.9" fill="#fff" text-anchor="middle" textLength="7.0" lengthAdjust="spacingAndGlyphs">63</text>
<text x="232.67" y="232.57" font-size="7.9" fill="#fff" text-anchor="middle" textLength="7.0" lengthAdjust="spacingAndGlyphs">67</text>
<text x="248.21" y="232.57" font-size="7.9" fill="#fff" text-anchor="middle" textLength="7.0" lengthAdjust="spacingAndGlyphs">71</text>
<text x="263.75" y="232.57" font-size="7.9" fill="#fff" text-anchor="middle" textLength="7.0" lengthAdjust="spacingAndGlyphs">75</text>
<text x="279.29" y="232.57" font-size="7.9" fill="#fff" text-anchor="middle" textLength="7.0" lengthAdjust="spacingAndGlyphs">78</text>
<text x="294.83" y="232.57" font-size="7.9" fill="#fff" text-anchor="middle" textLength="7.0" lengthAdjust="spacingAndGlyphs">81</text>
<text x="77.27" y="246.02" font-size="7.9" fill="#fff" text-anchor="middle" textLength="7.0" lengthAdjust="spacingAndGlyphs">19</text>
<text x="92.81" y="246.02" font-size="7.9" fill="#fff" text-anchor="middle" textLength="7.0" lengthAdjust="spacingAndGlyphs">22</text>
<text x="108.35" y="246.02" font-size="7.9" fill="#fff" text-anchor="middle" textLength="7.0" lengthAdjust="spacingAndGlyphs">25</text>
<text x="123.89" y="246.02" font-size="7.9" fill="#fff" text-anchor="middle" textLength="7.0" lengthAdjust="spacingAndGlyphs">30</text>
<text x="139.43" y="246.02" font-size="7.9" fill="#fff" text-anchor="middle" textLength="7.0" lengthAdjust="spacingAndGlyphs">35</text>
<text x="154.97" y="246.02" font-size="7.9" fill="#fff" text-anchor="middle" textLength="7.0" lengthAdjust="spacingAndGlyphs">39</text>
<text x="170.51" y="246.02" font-size="7.9" fill="#fff" text-anchor="middle" textLength="7.0" lengthAdjust="spacingAndGlyphs">45</text>
<text x="186.05" y="246.02" font-size="7.9" fill="#fff" text-anchor="middle" textLength="7.0" lengthAdjust="spacingAndGlyphs">50</text>
<text x="201.59" y="246.02" font-size="7.9" fill="#fff" text-anchor="middle" textLength="7.0" lengthAdjust="spacingAndGlyphs">55</text>
<text x="217.13" y="246.02" font-size="7.9" fill="#fff" text-anchor="middle" textLength="7.0" lengthAdjust="spacingAndGlyphs">60</text>
<text x="232.67" y="246.02" font-size="7.9" fill="#fff" text-anchor="middle" textLength="7.0" lengthAdjust="spacingAndGlyphs">65</text>
<text x="248.21" y="246.02" font-size="7.9" fill="#fff" text-anchor="middle" textLength="7.0" lengthAdjust="spacingAndGlyphs">69</text>
<text x="263.75" y="246.02" font-size="7.9" fill="#fff" text-anchor="middle" textLength="7.0" lengthAdjust="spacingAndGlyphs">73</text>
<text x="279.29" y="246.02" font-size="7.9" fill="#fff" text-anchor="middle" textLength="7.0" lengthAdjust="spacingAndGlyphs">77</text>
<text x="294.83" y="246.02" font-size="7.9" fill="#fff" text-anchor="middle" textLength="7.0" lengthAdjust="spacingAndGlyphs">79</text>
<text x="77.27" y="259.48" font-size="7.9" fill="#fff" text-anchor="middle" textLength="7.0" lengthAdjust="spacingAndGlyphs">17</text>
<text x="92.81" y="259.48" font-size="7.9" fill="#fff" text-anchor="middle" textLength="7.0" lengthAdjust="spacingAndGlyphs">20</text>
<text x="108.35" y="259.48" font-size="7.9" fill="#fff" text-anchor="middle" textLength="7.0" lengthAdjust="spacingAndGlyphs">24</text>
<text x="123.89" y="259.48" font-size="7.9" fill="#fff" text-anchor="middle" textLength="7.0" lengthAdjust="spacingAndGlyphs">28</text>
<text x="139.43" y="259.48" font-size="7.9" fill="#fff" text-anchor="middle" textLength="7.0" lengthAdjust="spacingAndGlyphs">32</text>
<text x="154.97" y="259.48" font-size="7.9" fill="#fff" text-anchor="middle" textLength="7.0" lengthAdjust="spacingAndGlyphs">37</text>
<text x="170.51" y="259.48" font-size="7.9" fill="#fff" text-anchor="middle" textLength="7.0" lengthAdjust="spacingAndGlyphs">43</text>
<text x="186.05" y="259.48" font-size="7.9" fill="#fff" text-anchor="middle" textLength="7.0" lengthAdjust="spacingAndGlyphs">48</text>
<text x="201.59" y="259.48" font-size="7.9" fill="#fff" text-anchor="middle" textLength="7.0" lengthAdjust="spacingAndGlyphs">52</text>
<text x="217.13" y="259.48" font-size="7.9" fill="#fff" text-anchor="middle" textLength="7.0" lengthAdjust="spacingAndGlyphs">58</text>
<text x="232.67" y="259.48" font-size="7.9" fill="#fff" text-anchor="middle" textLength="7.0" lengthAdjust="spacingAndGlyphs">63</text>
<text x="248.21" y="259.48" font-size="7.9" fill="#fff" text-anchor="middle" textLength="7.0" lengthAdjust="spacingAndGlyphs">67</text>
<text x="263.75" y="259.48" font-size="7.9" fill="#fff" text-anchor="middle" textLength="7.0" lengthAdjust="spacingAndGlyphs">71</text>
<text x="279.29" y="259.48" font-size="7.9" fill="#fff" text-anchor="middle" textLength="7.0" lengthAdjust="spacingAndGlyphs">75</text>
<text x="294.83" y="259.48" font-size="7.9" fill="#fff" text-anchor="middle" textLength="7.0" lengthAdjust="spacingAndGlyphs">78</text>
<text x="77.27" y="272.93" font-size="7.9" fill="#fff" text-anchor="middle" textLength="7.0" lengthAdjust="spacingAndGlyphs">17</text>
<text x="92.81" y="272.93" font-size="7.9" fill="#fff" text-anchor="middle" textLength="7.0" lengthAdjust="spacingAndGlyphs">19</text>
<text x="108.35" y="272.93" font-size="7.9" fill="#fff" text-anchor="middle" textLength="7.0" lengthAdjust="spacingAndGlyphs">22</text>
<text x="123.89" y="272.93" font-size="7.9" fill="#fff" text-anchor="middle" textLength="7.0" lengthAdjust="spacingAndGlyphs">26</text>
<text x="139.43" y="272.93" font-size="7.9" fill="#fff" text-anchor="middle" textLength="7.0" lengthAdjust="spacingAndGlyphs">31</text>
<text x="154.97" y="272.93" font-size="7.9" fill="#fff" text-anchor="middle" textLength="7.0" lengthAdjust="spacingAndGlyphs">35</text>
<text x="170.51" y="272.93" font-size="7.9" fill="#fff" text-anchor="middle" textLength="7.0" lengthAdjust="spacingAndGlyphs">40</text>
<text x="186.05" y="272.93" font-size="7.9" fill="#fff" text-anchor="middle" textLength="7.0" lengthAdjust="spacingAndGlyphs">46</text>
<text x="201.59" y="272.93" font-size="7.9" fill="#fff" text-anchor="middle" textLength="7.0" lengthAdjust="spacingAndGlyphs">51</text>
<text x="217.13" y="272.93" font-size="7.9" fill="#fff" text-anchor="middle" textLength="7.0" lengthAdjust="spacingAndGlyphs">56</text>
<text x="232.67" y="272.93" font-size="7.9" fill="#fff" text-anchor="middle" textLength="7.0" lengthAdjust="spacingAndGlyphs">61</text>
<text x="248.21" y="272.93" font-size="7.9" fill="#fff" text-anchor="middle" textLength="7.0" lengthAdjust="spacingAndGlyphs">65</text>
<text x="263.75" y="272.93" font-size="7.9" fill="#fff" text-anchor="middle" textLength="7.0" lengthAdjust="spacingAndGlyphs">69</text>
<text x="279.29" y="272.93" font-size="7.9" fill="#fff" text-anchor="middle" textLength="7.0" lengthAdjust="spacingAndGlyphs">73</text>
<text x="294.83" y="272.93" font-size="7.9" fill="#fff" text-anchor="middle" textLength="7.0" lengthAdjust="spacingAndGlyphs">76</text>
<text x="77.27" y="286.38" font-size="7.9" fill="#fff" text-anchor="middle" textLength="7.0" lengthAdjust="spacingAndGlyphs">15</text>
<text x="92.81" y="286.38" font-size="7.9" fill="#fff" text-anchor="middle" textLength="7.0" lengthAdjust="spacingAndGlyphs">18</text>
<text x="108.35" y="286.38" font-size="7.9" fill="#fff" text-anchor="middle" textLength="7.0" lengthAdjust="spacingAndGlyphs">21</text>
<text x="123.89" y="286.38" font-size="7.9" fill="#fff" text-anchor="middle" textLength="7.0" lengthAdjust="spacingAndGlyphs">25</text>
<text x="139.43" y="286.38" font-size="7.9" fill="#fff" text-anchor="middle" textLength="7.0" lengthAdjust="spacingAndGlyphs">28</text>
<text x="154.97" y="286.38" font-size="7.9" fill="#fff" text-anchor="middle" textLength="7.0" lengthAdjust="spacingAndGlyphs">33</text>
<text x="170.51" y="286.38" font-size="7.9" fill="#fff" text-anchor="middle" textLength="7.0" lengthAdjust="spacingAndGlyphs">38</text>
<text x="186.05" y="286.38" font-size="7.9" fill="#fff" text-anchor="middle" textLength="7.0" lengthAdjust="spacingAndGlyphs">43</text>
<text x="201.59" y="286.38" font-size="7.9" fill="#fff" text-anchor="middle" textLength="7.0" lengthAdjust="spacingAndGlyphs">48</text>
<text x="217.13" y="286.38" font-size="7.9" fill="#fff" text-anchor="middle" textLength="7.0" lengthAdjust="spacingAndGlyphs">53</text>
<text x="232.67" y="286.38" font-size="7.9" fill="#fff" text-anchor="middle" textLength="7.0" lengthAdjust="spacingAndGlyphs">58</text>
<text x="248.21" y="286.38" font-size="7.9" fill="#fff" text-anchor="middle" textLength="7.0" lengthAdjust="spacingAndGlyphs">63</text>
<text x="263.75" y="286.38" font-size="7.9" fill="#fff" text-anchor="middle" textLength="7.0" lengthAdjust="spacingAndGlyphs">67</text>
<text x="279.29" y="286.38" font-size="7.9" fill="#fff" text-anchor="middle" textLength="7.0" lengthAdjust="spacingAndGlyphs">71</text>
<text x="294.83" y="286.38" font-size="7.9" fill="#fff" text-anchor="middle" textLength="7.0" lengthAdjust="spacingAndGlyphs">75</text>
<text x="170" y="178.47" font-size="7.4" fill="#111" textLength="32.9" lengthAdjust="spacingAndGlyphs">Ni standard</text>
<rect x="66.90" y="47.90" width="25.20" height="28.00" rx="3.5" ry="3.5" fill="#000"/>
<text x="79.50" y="60.30" font-size="8.2" font-weight="bold" fill="#f0bf10" text-anchor="middle" textLength="17.0" lengthAdjust="spacingAndGlyphs">Thick</text>
<text x="79.50" y="70.90" font-size="8.2" font-weight="bold" fill="#f0bf10" text-anchor="middle" textLength="9.5" lengthAdjust="spacingAndGlyphs">Mg</text>
<rect x="66.80" y="169.00" width="26.10" height="28.50" rx="3.5" ry="3.5" fill="#000"/>
<text x="79.85" y="181.10" font-size="8.2" font-weight="bold" fill="#f0bf10" text-anchor="middle" textLength="13.8" lengthAdjust="spacingAndGlyphs">Thin</text>
<text x="79.85" y="191.60" font-size="8.2" font-weight="bold" fill="#f0bf10" text-anchor="middle" textLength="9.5" lengthAdjust="spacingAndGlyphs">Mg</text>
<rect x="303.30" y="48.00" width="5.60" height="13.50" fill="#5b9a60"/>
<rect x="303.30" y="61.45" width="22.30" height="13.50" fill="#5b9a60"/>
<rect x="303.30" y="74.90" width="44.70" height="13.50" fill="#5b9a60"/>
<rect x="303.30" y="88.35" width="5.60" height="13.50" fill="#c8a55c"/>
<rect x="303.30" y="101.80" width="22.30" height="13.50" fill="#c8a55c"/>
<rect x="303.30" y="115.25" width="44.70" height="13.50" fill="#c8a55c"/>
<rect x="303.30" y="128.70" width="5.60" height="13.50" fill="#c75b59"/>
<rect x="303.30" y="142.15" width="11.60" height="13.50" fill="#c75b59"/>
<rect x="303.30" y="155.60" width="22.30" height="13.50" fill="#c75b59"/>
<rect x="303.30" y="182.50" width="22.30" height="13.50" fill="#5b9a60"/>
<rect x="303.30" y="195.95" width="44.70" height="13.50" fill="#5b9a60"/>
<rect x="303.30" y="209.40" width="5.60" height="13.50" fill="#c8a55c"/>
<rect x="303.30" y="222.85" width="22.30" height="13.50" fill="#c8a55c"/>
<rect x="303.30" y="236.30" width="44.70" height="13.50" fill="#c8a55c"/>
<rect x="303.30" y="249.75" width="5.60" height="13.50" fill="#c75b59"/>
<rect x="303.30" y="263.20" width="11.60" height="13.50" fill="#c75b59"/>
<rect x="303.30" y="276.65" width="22.30" height="13.50" fill="#c75b59"/>
<path d="M303.45 48.00 V290.10" stroke="#2b2b2b" stroke-width="0.9" fill="none"/>
<text x="310.70" y="57.68" font-size="8.6" fill="#111" textLength="26.4" lengthAdjust="spacingAndGlyphs">7.5 mins</text>
<text x="327.80" y="71.12" font-size="8.6" fill="#111" textLength="7.4" lengthAdjust="spacingAndGlyphs">30</text>
<text x="350.20" y="84.58" font-size="8.6" fill="#111" textLength="7.5" lengthAdjust="spacingAndGlyphs">60</text>
<text x="310.70" y="98.02" font-size="8.6" fill="#111" textLength="9.5" lengthAdjust="spacingAndGlyphs">7.5</text>
<text x="327.80" y="111.47" font-size="8.6" fill="#111" textLength="7.4" lengthAdjust="spacingAndGlyphs">30</text>
<text x="350.20" y="124.92" font-size="8.6" fill="#111" textLength="7.5" lengthAdjust="spacingAndGlyphs">60</text>
<text x="310.70" y="138.37" font-size="8.6" fill="#111" textLength="9.5" lengthAdjust="spacingAndGlyphs">7.5</text>
<text x="317.20" y="151.82" font-size="8.6" fill="#111" textLength="7.1" lengthAdjust="spacingAndGlyphs">15</text>
<text x="328.30" y="165.27" font-size="8.6" fill="#111" textLength="7.4" lengthAdjust="spacingAndGlyphs">30</text>
<text x="327.80" y="192.17" font-size="8.6" fill="#111" textLength="7.4" lengthAdjust="spacingAndGlyphs">30</text>
<text x="350.20" y="205.62" font-size="8.6" fill="#111" textLength="7.5" lengthAdjust="spacingAndGlyphs">60</text>
<text x="310.70" y="219.07" font-size="8.6" fill="#111" textLength="9.5" lengthAdjust="spacingAndGlyphs">7.5</text>
<text x="327.80" y="232.52" font-size="8.6" fill="#111" textLength="7.4" lengthAdjust="spacingAndGlyphs">30</text>
<text x="350.20" y="245.97" font-size="8.6" fill="#111" textLength="7.5" lengthAdjust="spacingAndGlyphs">60</text>
<text x="310.70" y="259.43" font-size="8.6" fill="#111" textLength="9.5" lengthAdjust="spacingAndGlyphs">7.5</text>
<text x="317.20" y="272.88" font-size="8.6" fill="#111" textLength="7.1" lengthAdjust="spacingAndGlyphs">15</text>
<text x="328.30" y="286.32" font-size="8.6" fill="#111" textLength="7.4" lengthAdjust="spacingAndGlyphs">30</text>
<text x="305.00" y="78.70" font-size="8.5" fill="#fff" textLength="17.3" lengthAdjust="spacingAndGlyphs">340<tspan font-size="5.4" dy="-2.8">o</tspan><tspan dy="2.8">C</tspan></text>
<text x="305.00" y="119.05" font-size="8.5" fill="#fff" textLength="17.3" lengthAdjust="spacingAndGlyphs">400<tspan font-size="5.4" dy="-2.8">o</tspan><tspan dy="2.8">C</tspan></text>
<text x="305.00" y="165.12" font-size="8.5" fill="#fff" textLength="17.3" lengthAdjust="spacingAndGlyphs">460<tspan font-size="5.4" dy="-2.8">o</tspan><tspan dy="2.8">C</tspan></text>
<text x="305.00" y="199.75" font-size="8.5" fill="#fff" textLength="17.3" lengthAdjust="spacingAndGlyphs">340<tspan font-size="5.4" dy="-2.8">o</tspan><tspan dy="2.8">C</tspan></text>
<text x="305.00" y="240.10" font-size="8.5" fill="#fff" textLength="17.3" lengthAdjust="spacingAndGlyphs">400<tspan font-size="5.4" dy="-2.8">o</tspan><tspan dy="2.8">C</tspan></text>
<text x="305.00" y="286.18" font-size="8.5" fill="#fff" textLength="17.3" lengthAdjust="spacingAndGlyphs">460<tspan font-size="5.4" dy="-2.8">o</tspan><tspan dy="2.8">C</tspan></text>
<rect x="428.90" y="50.90" width="253.30" height="209.70" fill="none" stroke="#4d4d4d" stroke-width="1"/>
<path d="M428.90 260.60 h-4.0 M428.90 241.54 h-2.0 M428.90 222.47 h-4.0 M428.90 203.41 h-2.0 M428.90 184.35 h-4.0 M428.90 165.28 h-2.0 M428.90 146.22 h-4.0 M428.90 127.15 h-2.0 M428.90 108.09 h-4.0 M428.90 89.03 h-2.0 M428.90 69.96 h-4.0 M428.90 50.90 h-2.0 M428.90 260.60 v4.0 M471.12 260.60 v2.0 M513.33 260.60 v4.0 M555.55 260.60 v2.0 M597.77 260.60 v4.0 M639.98 260.60 v2.0 M682.20 260.60 v4.0" stroke="#4d4d4d" stroke-width="1" fill="none"/>
<text x="422.3" y="263.50" font-size="8.0" fill="#222" text-anchor="end">0</text>
<text x="422.3" y="225.37" font-size="8.0" fill="#222" text-anchor="end">4</text>
<text x="422.3" y="187.25" font-size="8.0" fill="#222" text-anchor="end">8</text>
<text x="422.3" y="149.12" font-size="8.0" fill="#222" text-anchor="end">12</text>
<text x="422.3" y="110.99" font-size="8.0" fill="#222" text-anchor="end">16</text>
<text x="422.3" y="72.86" font-size="8.0" fill="#222" text-anchor="end">20</text>
<text x="428.90" y="274.4" font-size="8.0" fill="#222" text-anchor="middle">1</text>
<text x="513.33" y="274.4" font-size="8.0" fill="#222" text-anchor="middle">2</text>
<text x="597.77" y="274.4" font-size="8.0" fill="#222" text-anchor="middle">3</text>
<text x="682.20" y="274.4" font-size="8.0" fill="#222" text-anchor="middle">4</text>
<text transform="translate(398.2 190) rotate(-90)" font-size="21" fill="#000" textLength="79" lengthAdjust="spacingAndGlyphs">Intensity</text>
<text x="541.6" y="298.8" font-size="16.2" font-weight="bold" fill="#000" textLength="51.6" lengthAdjust="spacingAndGlyphs">Q (Å<tspan font-size="10.6" dy="-5.5">-1</tspan><tspan dy="5.5">)</tspan></text>
<path d="M429.0 248.9 L429.8 252.1 L430.6 249.5 L431.4 249.0 L432.2 249.4 L433.0 251.9 L433.8 247.1 L434.6 251.1 L435.4 246.7 L436.2 249.4 L437.0 251.4 L437.8 250.4 L438.6 251.1 L439.4 249.8 L440.2 250.2 L441.0 249.9 L441.8 251.0 L442.6 249.9 L443.4 250.6 L444.2 250.3 L445.0 249.5 L445.8 250.2 L446.6 250.9 L447.4 243.8 L448.2 249.6 L449.0 247.8 L449.8 244.0 L450.6 246.1 L451.4 242.7 L452.2 247.6 L453.0 246.1 L453.8 246.9 L454.6 245.3 L455.4 244.4 L456.2 244.0 L457.0 244.8 L457.8 242.2 L458.6 245.3 L459.4 232.2 L460.2 221.0 L461.0 236.2 L461.8 243.4 L462.6 239.6 L463.4 231.5 L464.2 203.5 L465.0 222.2 L465.8 237.7 L466.6 244.3 L467.4 240.0 L468.2 241.8 L469.0 241.9 L469.8 242.0 L470.6 239.8 L471.4 237.5 L472.2 236.9 L473.0 232.5 L473.8 213.8 L474.6 181.1 L475.4 199.1 L476.2 219.8 L477.0 230.9 L477.8 231.3 L478.6 234.9 L479.4 235.7 L480.2 235.6 L481.0 234.4 L481.8 233.3 L482.6 228.7 L483.4 233.7 L484.2 234.9 L485.0 233.1 L485.8 227.6 L486.6 229.2 L487.4 230.9 L488.2 225.8 L489.0 214.7 L489.8 220.5 L490.6 227.6 L491.4 229.8 L492.2 225.9 L493.0 230.0 L493.8 232.9 L494.6 229.8 L495.4 226.4 L496.2 230.6 L497.0 228.3 L497.8 228.1 L498.6 229.1 L499.4 230.3 L500.2 230.2 L501.0 228.0 L501.8 229.9 L502.6 226.8 L503.4 223.8 L504.2 226.7 L505.0 229.0 L505.8 228.6 L506.6 224.5 L507.4 227.2 L508.2 225.8 L509.0 225.0 L509.8 224.2 L510.6 228.6 L511.4 226.1 L512.2 225.7 L513.0 225.2 L513.8 222.2 L514.6 227.7 L515.4 226.7 L516.2 223.3 L517.0 224.2 L517.8 223.2 L518.6 225.2 L519.4 226.8 L520.2 222.7 L521.0 220.8 L521.8 221.0 L522.6 225.3 L523.4 226.0 L524.2 225.5 L525.0 225.3 L525.8 220.9 L526.6 223.1 L527.4 219.3 L528.2 218.9 L529.0 220.8 L529.8 223.6 L530.6 222.2 L531.4 218.4 L532.2 221.9 L533.0 222.6 L533.8 221.3 L534.6 217.9 L535.4 219.5 L536.2 222.1 L537.0 221.4 L537.8 217.0 L538.6 218.6 L539.4 218.4 L540.2 216.3 L541.0 216.9 L541.8 214.3 L542.6 217.9 L543.4 217.3 L544.2 213.3 L545.0 217.3 L545.8 215.4 L546.6 215.1 L547.4 212.9 L548.2 214.5 L549.0 212.7 L549.8 211.5 L550.6 206.3 L551.4 204.5 L552.2 200.1 L553.0 194.9 L553.8 192.3 L554.6 189.1 L555.4 187.0 L556.2 183.3 L557.0 178.1 L557.8 174.6 L558.6 173.1 L559.4 170.0 L560.2 170.1 L561.0 168.3 L561.8 165.1 L562.6 162.9 L563.4 155.3 L564.2 150.3 L565.0 162.2 L565.8 171.8 L566.6 175.3 L567.4 177.3 L568.2 176.5 L569.0 179.0 L569.8 179.7 L570.6 181.0 L571.4 181.6 L572.2 179.2 L573.0 181.2 L573.8 178.1 L574.6 175.0 L575.4 171.2 L576.2 163.5 L577.0 142.3 L577.8 146.1 L578.6 163.1 L579.4 172.3 L580.2 179.6 L581.0 184.3 L581.8 189.3 L582.6 191.0 L583.4 191.1 L584.2 194.3 L585.0 196.2 L585.8 198.5 L586.6 201.5 L587.4 202.6 L588.2 203.9 L589.0 203.5 L589.8 203.5 L590.6 199.3 L591.4 196.4 L592.2 188.6 L593.0 168.9 L593.8 129.4 L594.6 165.0 L595.4 183.7 L596.2 194.5 L597.0 199.9 L597.8 201.5 L598.6 203.9 L599.4 207.2 L600.2 208.8 L601.0 210.3 L601.8 205.4 L602.6 197.6 L603.4 186.5 L604.2 158.8 L605.0 141.6 L605.8 175.2 L606.6 202.9 L607.4 209.8 L608.2 215.7 L609.0 216.4 L609.8 218.6 L610.6 218.8 L611.4 216.7 L612.2 220.8 L613.0 219.9 L613.8 222.1 L614.6 223.4 L615.4 222.0 L616.2 220.1 L617.0 220.5 L617.8 221.0 L618.6 223.1 L619.4 222.2 L620.2 220.5 L621.0 222.7 L621.8 223.0 L622.6 221.5 L623.4 222.8 L624.2 222.6 L625.0 220.7 L625.8 219.5 L626.6 222.5 L627.4 222.0 L628.2 220.7 L629.0 220.5 L629.8 221.2 L630.6 221.5 L631.4 221.9 L632.2 223.0 L633.0 221.8 L633.8 223.8 L634.6 224.6 L635.4 222.7 L636.2 224.4 L637.0 223.4 L637.8 223.2 L638.6 222.8 L639.4 222.9 L640.2 221.6 L641.0 221.7 L641.8 221.2 L642.6 219.4 L643.4 218.1 L644.2 214.2 L645.0 216.4 L645.8 220.9 L646.6 221.3 L647.4 221.2 L648.2 219.6 L649.0 222.9 L649.8 220.7 L650.6 222.2 L651.4 222.2 L652.2 220.7 L653.0 222.2 L653.8 223.6 L654.6 220.3 L655.4 222.6 L656.2 223.7 L657.0 222.3 L657.8 219.8 L658.6 220.5 L659.4 220.0 L660.2 220.5 L661.0 222.8 L661.8 222.5 L662.6 222.5 L663.4 222.2 L664.2 221.2 L665.0 220.1 L665.8 220.6 L666.6 219.7 L667.4 220.0 L668.2 218.8 L669.0 219.8 L669.8 217.5 L670.6 213.1 L671.4 208.6 L672.2 214.1 L673.0 218.5 L673.8 220.2 L674.6 221.6 L675.4 218.4 L676.2 222.4 L677.0 219.9 L677.8 220.6 L678.6 220.2 L679.4 220.4 L680.2 217.6 L681.0 218.1 L681.8 217.5 L681.8 220.2 L681.0 221.0 L680.2 221.3 L679.4 222.7 L678.6 224.0 L677.8 224.9 L677.0 225.0 L676.2 226.1 L675.4 225.9 L674.6 224.3 L673.8 222.4 L673.0 219.7 L672.2 215.4 L671.4 212.9 L670.6 214.4 L669.8 220.5 L669.0 222.9 L668.2 222.9 L667.4 223.9 L666.6 223.0 L665.8 226.4 L665.0 223.7 L664.2 224.1 L663.4 224.5 L662.6 227.1 L661.8 226.5 L661.0 225.0 L660.2 225.5 L659.4 228.2 L658.6 227.5 L657.8 228.9 L657.0 225.4 L656.2 227.0 L655.4 229.8 L654.6 227.8 L653.8 225.9 L653.0 227.1 L652.2 225.3 L651.4 226.9 L650.6 226.3 L649.8 226.6 L649.0 225.7 L648.2 224.6 L647.4 227.9 L646.6 225.4 L645.8 222.5 L645.0 218.2 L644.2 215.1 L643.4 221.0 L642.6 225.3 L641.8 225.8 L641.0 224.4 L640.2 226.5 L639.4 227.6 L638.6 229.5 L637.8 226.3 L637.0 230.5 L636.2 227.9 L635.4 228.3 L634.6 227.6 L633.8 226.1 L633.0 225.7 L632.2 226.7 L631.4 227.7 L630.6 224.4 L629.8 222.7 L629.0 223.4 L628.2 223.9 L627.4 224.3 L626.6 227.3 L625.8 224.8 L625.0 224.5 L624.2 228.9 L623.4 226.0 L622.6 225.3 L621.8 226.3 L621.0 225.4 L620.2 224.8 L619.4 228.3 L618.6 224.8 L617.8 227.2 L617.0 226.0 L616.2 227.5 L615.4 226.5 L614.6 225.5 L613.8 228.2 L613.0 226.2 L612.2 226.2 L611.4 222.1 L610.6 222.1 L609.8 222.3 L609.0 220.0 L608.2 218.1 L607.4 211.6 L606.6 203.0 L605.8 175.5 L605.0 141.7 L604.2 158.8 L603.4 187.9 L602.6 198.5 L601.8 206.3 L601.0 212.2 L600.2 210.7 L599.4 209.9 L598.6 206.3 L597.8 203.5 L597.0 201.6 L596.2 196.9 L595.4 184.3 L594.6 165.1 L593.8 129.4 L593.0 169.1 L592.2 189.7 L591.4 198.3 L590.6 203.4 L589.8 205.1 L589.0 207.4 L588.2 205.8 L587.4 205.3 L586.6 204.5 L585.8 202.6 L585.0 200.9 L584.2 197.2 L583.4 194.4 L582.6 193.6 L581.8 190.5 L581.0 186.4 L580.2 181.6 L579.4 172.9 L578.6 163.7 L577.8 146.4 L577.0 142.6 L576.2 164.8 L575.4 172.3 L574.6 176.7 L573.8 179.8 L573.0 182.9 L572.2 184.0 L571.4 184.1 L570.6 185.3 L569.8 184.2 L569.0 183.2 L568.2 181.4 L567.4 179.8 L566.6 176.7 L565.8 175.2 L565.0 163.1 L564.2 151.2 L563.4 157.9 L562.6 164.0 L561.8 168.7 L561.0 170.6 L560.2 174.3 L559.4 174.9 L558.6 176.1 L557.8 176.8 L557.0 180.2 L556.2 184.2 L555.4 189.1 L554.6 191.0 L553.8 194.8 L553.0 197.6 L552.2 202.4 L551.4 207.9 L550.6 211.1 L549.8 213.1 L549.0 216.5 L548.2 218.7 L547.4 219.2 L546.6 219.6 L545.8 221.3 L545.0 221.1 L544.2 222.9 L543.4 221.9 L542.6 227.2 L541.8 222.9 L541.0 223.3 L540.2 222.9 L539.4 225.1 L538.6 224.8 L537.8 225.4 L537.0 227.2 L536.2 226.4 L535.4 226.6 L534.6 226.3 L533.8 228.0 L533.0 228.8 L532.2 228.3 L531.4 225.8 L530.6 226.6 L529.8 226.2 L529.0 226.4 L528.2 229.7 L527.4 230.0 L526.6 229.6 L525.8 232.0 L525.0 230.5 L524.2 231.6 L523.4 230.4 L522.6 230.0 L521.8 230.8 L521.0 229.8 L520.2 229.6 L519.4 229.4 L518.6 232.3 L517.8 230.1 L517.0 234.1 L516.2 232.8 L515.4 231.1 L514.6 231.8 L513.8 234.3 L513.0 230.7 L512.2 235.0 L511.4 235.2 L510.6 234.0 L509.8 233.5 L509.0 233.0 L508.2 235.3 L507.4 233.9 L506.6 235.7 L505.8 233.2 L505.0 233.5 L504.2 232.3 L503.4 235.0 L502.6 232.7 L501.8 236.6 L501.0 232.7 L500.2 233.1 L499.4 236.3 L498.6 237.4 L497.8 237.5 L497.0 239.3 L496.2 236.2 L495.4 235.7 L494.6 240.1 L493.8 238.7 L493.0 238.2 L492.2 235.0 L491.4 232.5 L490.6 231.4 L489.8 222.1 L489.0 215.2 L488.2 226.4 L487.4 235.1 L486.6 235.8 L485.8 242.2 L485.0 237.7 L484.2 240.1 L483.4 238.8 L482.6 239.0 L481.8 240.2 L481.0 238.7 L480.2 239.8 L479.4 240.9 L478.6 238.1 L477.8 238.7 L477.0 236.7 L476.2 220.5 L475.4 199.2 L474.6 181.1 L473.8 213.8 L473.0 232.9 L472.2 244.4 L471.4 242.7 L470.6 245.0 L469.8 248.3 L469.0 247.3 L468.2 246.3 L467.4 251.8 L466.6 250.4 L465.8 240.4 L465.0 222.3 L464.2 203.5 L463.4 231.5 L462.6 241.4 L461.8 246.0 L461.0 236.4 L460.2 221.3 L459.4 232.3 L458.6 250.4 L457.8 255.3 L457.0 252.5 L456.2 252.4 L455.4 258.5 L454.6 253.0 L453.8 255.4 L453.0 252.9 L452.2 255.1 L451.4 251.5 L450.6 253.8 L449.8 253.9 L449.0 251.9 L448.2 255.0 L447.4 253.9 L446.6 257.7 L445.8 258.9 L445.0 255.2 L444.2 259.3 L443.4 258.3 L442.6 255.7 L441.8 255.1 L441.0 257.5 L440.2 259.2 L439.4 261.2 L438.6 256.2 L437.8 257.1 L437.0 255.1 L436.2 256.8 L435.4 261.6 L434.6 257.2 L433.8 258.7 L433.0 256.4 L432.2 256.5 L431.4 257.0 L430.6 256.1 L429.8 254.4 L429.0 251.6 Z" fill="#000" stroke="#000" stroke-width="0.6" stroke-linejoin="round"/>
<path d="M429.0 250.0 L430.0 254.0 L433.0 254.5 L438.0 253.5 L444.7 253.5 L451.3 249.0 L456.6 250.5 L458.8 247.0 L460.0 217.5 L461.2 240.0 L461.9 246.0 L463.3 235.0 L464.3 200.0 L465.4 235.0 L466.6 246.0 L470.4 243.0 L472.6 240.0 L473.6 222.0 L474.7 177.0 L475.9 215.0 L477.0 234.0 L479.0 237.5 L481.0 237.5 L484.2 236.0 L487.7 233.0 L489.1 213.5 L490.5 230.0 L493.4 234.5 L497.0 232.5 L504.0 230.5 L511.0 229.5 L518.0 228.5 L525.0 226.5 L532.0 224.5 L538.0 222.5 L543.0 220.5 L547.0 217.5 L549.5 213.5 L551.6 204.5 L553.6 194.0 L555.5 187.4 L557.5 176.8 L560.1 171.6 L562.1 167.0 L563.3 158.0 L564.1 149.3 L564.9 160.0 L565.4 172.9 L567.4 178.2 L570.7 184.0 L573.3 181.4 L575.3 172.9 L576.4 162.0 L577.3 132.6 L578.3 160.0 L579.9 178.2 L581.8 190.0 L584.5 196.6 L587.1 203.8 L589.0 206.0 L591.1 200.5 L592.6 184.7 L593.1 165.0 L593.8 129.4 L594.6 165.0 L595.7 191.3 L597.0 200.5 L599.0 207.0 L600.9 212.1 L602.2 203.2 L603.6 184.7 L604.1 165.0 L604.7 127.6 L605.5 165.0 L606.6 203.0 L608.2 217.4 L611.4 221.3 L613.4 224.3 L620.0 224.0 L627.0 223.5 L629.2 221.0 L631.0 224.0 L633.5 225.0 L635.8 227.5 L638.0 225.0 L640.0 224.0 L642.6 222.5 L644.3 214.3 L646.0 223.0 L650.0 224.5 L657.0 224.5 L664.7 222.8 L669.3 221.0 L671.3 210.3 L673.3 220.5 L675.3 223.3 L679.0 222.5 L682.0 218.0" stroke="#000" stroke-width="2.0" stroke-linejoin="round" fill="none"/>
<clipPath id="cl"><rect x="540" y="158" width="80" height="80"/></clipPath>
<path d="M549.5 213.5 L551.6 204.5 L553.6 194.0 L555.5 187.4 L557.5 176.8 L560.1 171.6 L562.1 167.0 L563.3 158.0 L564.1 149.3 L564.9 160.0 L565.4 172.9 L567.4 178.2 L570.7 184.0 L573.3 181.4 L575.3 172.9 L576.4 162.0 L577.3 132.6 L578.3 160.0 L579.9 178.2 L581.8 190.0 L584.5 196.6 L587.1 203.8 L589.0 206.0 L591.1 200.5 L592.6 184.7 L593.1 165.0 L593.8 129.4 L594.6 165.0 L595.7 191.3 L597.0 200.5 L599.0 207.0 L600.9 212.1 L602.2 203.2 L603.6 184.7 L604.1 165.0 L604.7 127.6 L605.5 165.0 L606.6 203.0 L608.2 217.4 L611.4 221.3" stroke="#000" stroke-width="2.7" stroke-linejoin="round" fill="none" clip-path="url(#cl)"/>
<text transform="translate(483.90 143.30) rotate(-90)" font-size="11.3" fill="#111" stroke="#111" stroke-width="0.15" textLength="67.0" lengthAdjust="spacingAndGlyphs">Cu<tspan font-size="7" dy="2">2</tspan><tspan dy="-2">Mg&#160;(1&#160;1&#160;1)</tspan></text>
<text transform="translate(559.20 137.50) rotate(-90)" font-size="11.3" fill="#111" stroke="#111" stroke-width="0.15" textLength="66.7" lengthAdjust="spacingAndGlyphs">CuMg<tspan font-size="7" dy="2">2</tspan><tspan dy="-2">&#160;(0&#160;8&#160;0)</tspan></text>
<text transform="translate(591.00 119.70) rotate(-90)" font-size="11.3" fill="#111" stroke="#111" stroke-width="0.15" textLength="64.6" lengthAdjust="spacingAndGlyphs">Cu<tspan font-size="7" dy="2">2</tspan><tspan dy="-2">Mg(3&#160;1&#160;1)</tspan></text>
<text transform="translate(606.20 119.50) rotate(-90)" font-size="11.3" fill="#111" stroke="#111" stroke-width="0.15" textLength="65.6" lengthAdjust="spacingAndGlyphs">CuMg<tspan font-size="7" dy="2">2</tspan><tspan dy="-2">&#160;(3&#160;5&#160;1)</tspan></text>
<text transform="translate(625.80 148.60) rotate(-90)" font-size="11.3" fill="#111" stroke="#111" stroke-width="0.15" textLength="64.0" lengthAdjust="spacingAndGlyphs">Cu<tspan font-size="7" dy="2">2</tspan><tspan dy="-2">Mg(2&#160;2&#160;2)</tspan></text>
<text transform="translate(640.60 148.60) rotate(-90)" font-size="11.3" fill="#111" stroke="#111" stroke-width="0.15" textLength="67.0" lengthAdjust="spacingAndGlyphs">CuMg<tspan font-size="7" dy="2">2</tspan><tspan dy="-2">&#160;(4&#160;4&#160;0)</tspan></text>
<path d="M480.60 152.20 L477.17 169.23" stroke="#ed7d31" stroke-width="0.9" fill="none"/>
<path d="M475.90 175.50 L474.22 168.63 L480.11 169.82 Z" fill="#ed7d31"/>
<path d="M564.00 129.00 L568.73 131.05" stroke="#ed7d31" stroke-width="0.9" fill="none"/>
<path d="M574.60 133.60 L567.53 133.80 L569.92 128.30 Z" fill="#ed7d31"/>
<path d="M596.60 120.50 L595.60 124.13" stroke="#ed7d31" stroke-width="0.9" fill="none"/>
<path d="M593.90 130.30 L592.71 123.33 L598.49 124.93 Z" fill="#ed7d31"/>
<path d="M614.80 121.40 L611.92 123.56" stroke="#ed7d31" stroke-width="0.9" fill="none"/>
<path d="M606.80 127.40 L610.12 121.16 L613.72 125.96 Z" fill="#ed7d31"/>
</svg>
</body></html>
